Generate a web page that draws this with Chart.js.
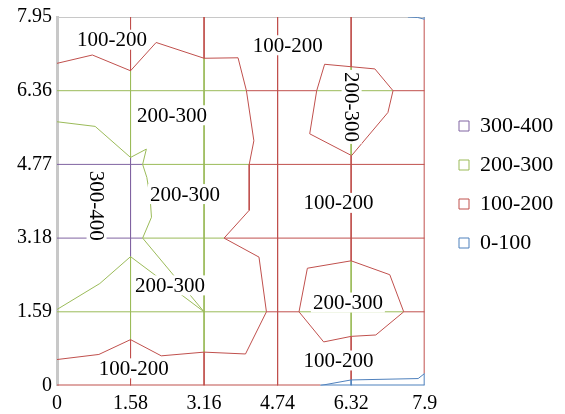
<!DOCTYPE html>
<html>
<head>
<meta charset="utf-8">
<script src="https://cdn.jsdelivr.net/npm/chart.js@4/dist/chart.umd.min.js"></script>
<style>
  body { margin: 0; background: #fff; }
  canvas { display: block; }
</style>
</head>
<body>
<canvas id="contour" width="565" height="414"></canvas>
<script>
// axis ticks (data grid of the surface)
const xTicks = [0, 1.58, 3.16, 4.74, 6.32, 7.9];
const yTicks = [0, 1.59, 3.18, 4.77, 6.36, 7.95];

const bands = ['300-400', '200-300', '100-200', '0-100'];
const bandColors = ['#8064A2', '#9BBB59', '#C0504D', '#4F81BD'];

// vertical grid lines: y where the band changes (top to bottom) and band of each piece
const vLineX = [1.58, 3.16, 4.74, 6.32, 7.9];
const vCuts = [
  [7.95, 6.79, 4.92, 2.78, 0.99, 0],
  [7.95, 7.06, 0.72, 0],
  [7.95, 0],
  [7.95, 6.88, 4.96, 2.69, 1.06, 0.12, 0],
  [7.95, 7.9, 0.26, 0]
];
const vBands = [
  [2, 1, 0, 1, 2],
  [2, 1, 2],
  [2],
  [2, 1, 2, 1, 2, 3],
  [3, 2, 3]
];

// horizontal grid lines: x where the band changes (left to right)
const hLineY = [0, 1.59, 3.18, 4.77, 6.36];
const hCuts = [
  [0, 5.66, 7.9],
  [0, 4.5, 5.2, 7.45, 7.9],
  [0, 1.84, 3.59, 7.9],
  [0, 1.84, 4.13, 7.9],
  [0, 4.07, 5.58, 7.22, 7.9]
];
const hBands = [
  [2, 3],
  [1, 2, 1, 2],
  [0, 1, 2],
  [0, 1, 2],
  [1, 2, 1, 2]
];

// contour lines [x, y]
const level300 = [[0, 5.69], [0.82, 5.59], [1.58, 4.92], [1.92, 5.1], [1.84, 4.77], [1.93, 4.49], [2.0, 4.06],
  [2.03, 3.63], [1.84, 3.18], [3.16, 1.59], [1.58, 2.78], [0.92, 2.2], [0, 1.64]];
const level200 = [[0, 6.95], [0.76, 7.13], [1.58, 6.79], [2.13, 7.4], [3.16, 7.06], [3.89, 7.07], [4.07, 6.36],
  [4.23, 5.28], [4.13, 4.77], [4.13, 3.78], [3.59, 3.18], [4.34, 2.77], [4.5, 1.59], [4.05, 0.68], [3.16, 0.72],
  [2.24, 0.64], [1.58, 0.99], [0.9, 0.67], [0, 0.56]];
const level200Top = [[5.75, 6.93], [6.83, 6.83], [7.22, 6.36], [7.11, 5.89], [6.33, 4.96], [5.43, 5.43], [5.58, 6.36], [5.75, 6.93]];
const level200Low = [[5.38, 2.53], [6.32, 2.69], [7.15, 2.39], [7.45, 1.59], [6.85, 1.09], [6.32, 1.06], [5.73, 0.94], [5.2, 1.59], [5.38, 2.53]];
const level100Low = [[5.66, 0], [6.32, 0.12], [7.76, 0.15], [7.9, 0.26]];
const level100Top = [[7.54, 7.95], [7.75, 7.94], [7.9, 7.9]];

// contour labels
const labelText = ['100-200', '100-200', '200-300', '200-300', '300-400', '200-300', '100-200', '200-300', '200-300', '100-200', '100-200'];
const labelX = [1.18, 4.96, 2.47, 6.33, 0.85, 2.75, 6.05, 2.43, 6.25, 6.05, 1.65];
const labelY = [7.46, 7.34, 5.83, 6.01, 3.88, 4.13, 3.94, 2.16, 1.79, 0.54, 0.37];
const labelAngle = [0, 0, 0, 90, 90, 0, 0, 0, 0, 0, 0];

function line(points, color, width) {
  return {
    data: points.map(p => ({ x: p[0], y: p[1] })),
    borderColor: color,
    borderWidth: width,
    showLine: true,
    pointRadius: 0,
    fill: false,
    tension: 0
  };
}

const datasets = [];
// contours first so they sit above the grid
datasets.push(line(level300, bandColors[1], 1));
datasets.push(line(level200, bandColors[2], 1));
datasets.push(line(level200Top, bandColors[2], 1));
datasets.push(line(level200Low, bandColors[2], 1));
datasets.push(line(level100Low, bandColors[3], 1));
datasets.push(line(level100Top, bandColors[3], 1));

vLineX.forEach((x, i) => {
  const w = x === 7.9 ? 2 : 1;
  vBands[i].forEach((b, j) => {
    datasets.push(line([[x, vCuts[i][j]], [x, vCuts[i][j + 1]]], bandColors[b], w));
  });
});
hLineY.forEach((y, i) => {
  const w = y === 0 ? 2 : 1;
  hBands[i].forEach((b, j) => {
    datasets.push(line([[hCuts[i][j], y], [hCuts[i][j + 1], y]], bandColors[b], w));
  });
});
// top frame
datasets.push(line([[0, 7.95], [7.9, 7.95]], '#c8c8c8', 2));

const contourLabels = {
  id: 'contourLabels',
  afterDatasetsDraw(chart) {
    const { ctx, scales: { x, y } } = chart;
    ctx.save();
    ctx.font = '21px "Liberation Serif", "Times New Roman", serif';
    ctx.textAlign = 'center';
    ctx.textBaseline = 'middle';
    labelText.forEach((t, i) => {
      const w = ctx.measureText(t).width;
      ctx.save();
      ctx.translate(x.getPixelForValue(labelX[i]), y.getPixelForValue(labelY[i]));
      ctx.rotate(labelAngle[i] * Math.PI / 180);
      ctx.fillStyle = '#fff';
      ctx.fillRect(-w / 2 - 2, -10, w + 4, 20);
      ctx.fillStyle = '#000';
      ctx.fillText(t, 0, 1);
      ctx.restore();
    });
    ctx.restore();
  }
};

// put the legend where the original has it
const legendPlace = {
  id: 'legendPlace',
  afterLayout(chart) {
    const l = chart.legend;
    l.left = 442;
    l.right = l.left + l.width;
    l.top = 98;
    l.bottom = 414;
  }
};

const tickFont = { family: '"Liberation Serif", "Times New Roman", serif', size: 20 };

new Chart(document.getElementById('contour'), {
  type: 'scatter',
  data: { datasets },
  options: {
    responsive: false,
    animation: false,
    devicePixelRatio: 1,
    layout: { padding: { top: 16, right: 19, bottom: 0, left: 0 } },
    scales: {
      x: {
        type: 'linear',
        min: 0,
        max: 7.9,
        afterBuildTicks: s => { s.ticks = xTicks.map(v => ({ value: v })); },
        afterFit: s => { s.height = 28.5; },
        ticks: { font: tickFont, color: '#000', padding: 6, maxRotation: 0, autoSkip: false, callback: v => String(v) },
        grid: { display: false, drawTicks: false },
        border: { display: false }
      },
      y: {
        type: 'linear',
        min: 0,
        max: 7.95,
        afterBuildTicks: s => { s.ticks = yTicks.map(v => ({ value: v })); },
        afterFit: s => { s.width = 57; },
        ticks: { font: tickFont, color: '#000', padding: 5, autoSkip: false, callback: v => String(v) },
        grid: { display: false, drawTicks: false },
        border: { display: true, color: '#c8c8c8', width: 3 }
      }
    },
    plugins: {
      tooltip: { enabled: false },
      legend: {
        position: 'right',
        align: 'start',
        onClick: null,
        labels: {
          font: { family: '"Liberation Serif", "Times New Roman", serif', size: 22 },
          color: '#000',
          boxWidth: 10,
          boxHeight: 10,
          padding: 17,
          generateLabels: () => bands.map((b, i) => ({
            text: b,
            fillStyle: '#fff',
            strokeStyle: bandColors[i],
            lineWidth: 1,
            hidden: false,
            fontColor: '#000'
          }))
        }
      }
    }
  },
  plugins: [contourLabels, legendPlace]
});
</script>
</body>
</html>
